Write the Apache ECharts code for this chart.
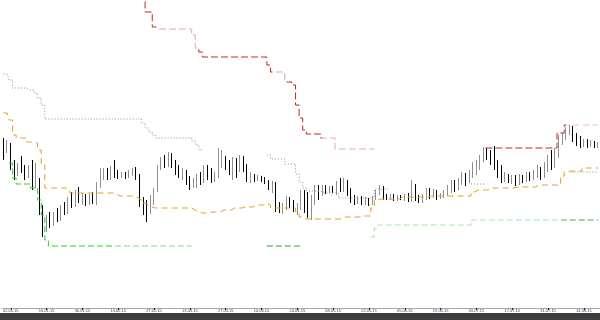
<!DOCTYPE html>
<html><head><meta charset="utf-8">
<script src="https://cdn.jsdelivr.net/npm/echarts@6/dist/echarts.min.js"></script>
<style>html,body{margin:0;padding:0;background:#fff}#c{width:600px;height:320px}</style>
</head><body><div id="c"></div>
<script>
const tickLabels = ["02.01.15","16.01.15","30.01.15","13.02.15","27.02.15","13.03.15","27.03.15","10.04.15","24.04.15","08.05.15","22.05.15","05.06.15","19.06.15","03.07.15","17.07.15","31.07.15","14.08.15"];

const opens = [168,158,163,143,136,143,138,132,138,123,128,98,80,90,84,94,90,100,96,108,104,112,108,112,106,111,108,123,133,135,131,138,135,132,133,132,135,136,132,108,98,96,108,118,140,148,144,150,146,138,133,136,128,124,126,130,127,138,133,128,132,143,148,143,138,146,138,148,142,130,131,129,130,128,125,122,124,103,98,103,108,104,100,103,113,108,98,108,118,114,120,118,119,118,124,120,125,116,110,108,110,106,108,105,110,116,119,112,110,112,109,111,110,112,109,122,110,108,111,115,113,116,112,113,115,118,123,120,126,130,128,133,138,143,150,158,153,158,143,138,130,131,128,130,126,130,128,132,130,134,138,132,140,148,143,156,168,172,178,180,170,168,165,167,164,166,163];
const closes = [153,166,143,133,143,138,133,140,123,133,98,78,90,83,94,88,100,96,108,103,112,108,112,105,111,108,123,133,136,130,138,135,132,134,131,135,136,133,108,98,95,108,118,140,148,143,150,146,138,133,136,128,124,126,130,126,138,133,128,132,143,148,143,138,148,138,148,142,130,132,129,131,128,126,122,125,103,98,103,108,105,100,103,113,108,98,108,118,113,120,118,119,118,124,120,126,116,110,108,110,106,109,105,110,116,120,112,110,112,109,111,110,112,109,123,110,108,111,115,113,116,112,113,115,118,123,120,126,130,128,133,138,143,148,158,153,148,143,138,130,132,128,130,126,130,128,132,130,134,138,132,140,148,143,156,168,172,178,180,170,168,165,167,164,166,163,164];
const lows = [148,155,138,128,132,135,128,130,118,120,93,71,76,80,82,86,87,93,94,100,101,105,103,102,103,104,103,120,128,128,128,130,129,130,129,130,132,128,101,93,86,94,103,116,138,140,141,140,133,130,128,123,118,120,120,123,125,128,125,126,130,140,138,133,128,130,136,136,126,125,126,127,126,124,118,115,96,95,94,98,100,96,93,98,95,90,88,103,108,112,114,115,115,113,116,116,112,105,103,104,103,103,102,103,108,113,108,108,108,107,107,108,107,106,106,107,105,105,108,109,110,108,109,110,112,115,116,118,123,122,125,130,133,138,146,148,143,138,130,125,126,125,124,122,123,125,126,127,128,130,128,130,136,138,140,150,163,168,173,166,162,160,161,160,161,160,160];
const highs = [170,168,165,148,145,152,143,143,148,145,130,103,93,96,96,100,103,106,111,116,118,121,115,114,114,116,126,140,140,140,142,148,138,136,136,138,140,141,134,111,108,113,120,143,151,153,156,155,148,143,140,138,132,130,134,136,143,143,140,136,160,158,152,148,151,150,153,152,144,136,134,133,132,131,128,127,126,106,105,112,111,108,105,118,118,116,113,123,123,123,123,122,122,127,130,130,128,120,113,112,112,111,110,112,118,123,122,114,114,114,113,113,114,115,128,124,113,114,120,120,119,118,115,118,123,128,128,130,136,135,138,146,148,153,161,160,158,162,148,143,136,134,133,133,134,133,136,136,138,143,141,146,153,158,160,173,175,181,183,182,175,172,169,169,168,167,166];

const redLine = [null,null,null,null,null,null,null,null,null,null,null,null,null,null,null,null,null,null,null,null,null,null,null,null,null,null,null,null,null,null,null,null,null,null,null,null,null,null,null,
313,296,296,281,279,279,279,279,279,279,279,279,279,279,273,260,256,
251,251,251,251,251,251,251,251,251,251,251,251,251,251,251,251,251,251,
243,236,236,236,236,226,226,223,203,190,178,174,174,174,174,170,170,170,170,
159,159,159,159,159,159,159,159,159,159,159,
null,null,null,null,null,null,null,null,null,null,null,null,null,null,null,null,null,null,null,null,null,null,null,null,null,null,null,null,null,null,null,
160,160,160,160,160,160,160,160,160,160,160,160,160,160,160,160,160,160,160,160,
175,175,183,183,183,183,183,183,183,183,183,183];

const grayLine = [234,234,228,220,220,220,220,218,218,215,210,203,
189,189,189,189,189,189,189,189,189,189,189,189,189,189,189,189,189,189,189,189,189,189,189,189,189,189,189,
185,180,176,173,170,170,170,170,170,170,170,170,170,170,167,163,158,
null,null,null,null,null,null,null,null,null,null,null,null,null,null,null,null,null,null,
153,149,149,149,149,144,144,144,134,126,120,117,117,117,117,115,115,115,115,115,
110,110,110,110,110,110,110,110,110,110,119,119,119,119,
null,null,null,null,null,null,null,null,null,null,null,null,null,null,null,null,null,null,null,null,null,null,null,
124,124,124,124,
null,null,null,null,null,null,null,null,null,null,null,null,null,null,null,null,null,null,null,null,null,null,null,null,
136,136,136,136,136,136,136,136];

const orangeLine = [195,195,188,173,170,170,170,166,166,165,158,143,120,120,120,120,120,120,118,
115,115,115,115,115,115,115,115,115,115,115,115,114,112,112,112,112,112,110,108,105,103,101,
100,100,100,100,100,100,100,100,100,100,100,98,96,95,95,95,96,96,96,98,98,98,100,100,100,101,101,101,103,103,103,105,103,
100,100,100,100,100,100,100,96,91,89,89,89,89,89,89,89,89,89,89,89,91,91,91,91,91,92,92,92,100,108,
109,109,109,109,109,109,111,111,111,111,111,111,111,111,112,112,112,112,112,112,112,112,112,112,112,112,
116,118,118,118,118,120,120,120,120,120,120,120,121,121,121,121,121,121,123,123,123,123,123,123,123,132,136,137,137,137,137,140,140,140,140,140];

const greenLine = [null,null,145,130,124,124,124,124,120,120,108,93,68,
62,62,62,62,62,62,62,62,62,62,62,62,62,62,62,62,62,62,62,62,62,62,62,62,62,62,62,62,62,62,62,62,62,62,62,62,62,62,62,62,
null,null,null,null,null,null,null,null,null,null,null,null,null,null,null,null,null,null,null,null,null,
62,62,62,62,62,62,62,62,62,62,
null,null,null,null,null,null,null,null,null,null,null,null,null,null,null,null,null,null,null,
71,80,83,83,83,83,83,83,83,83,83,83,83,83,83,83,83,83,83,83,83,83,83,83,83,83,83,83,
88,88,88,88,88,88,88,88,88,88,88,88,88,88,88,88,88,88,88,88,88,88,88,88,88,88,88,88,88,88,88,88,88,88,88,88];

const categories = opens.map((_, i) => i);
const candles = opens.map((o, i) => [o, closes[i], lows[i], highs[i]]);
const showIdx = (idx) => idx >= 2 && (idx - 2) % 10 === 0;

const chart = echarts.init(document.getElementById('c'), null, {renderer: 'canvas'});
chart.setOption({
  animation: false,
  backgroundColor: '#ffffff',
  grid: {left: 0, right: 0, top: 0, bottom: 12, containLabel: false},
  xAxis: {
    type: 'category', data: categories, boundaryGap: true,
    axisLine: {lineStyle: {color: '#a8a8a8', width: 1}},
    axisTick: {show: true, interval: showIdx, length: 2, alignWithLabel: true, lineStyle: {color: '#222'}},
    axisLabel: {interval: showIdx, margin: 1, fontSize: 4, color: '#334466', fontFamily: 'Liberation Sans',
      formatter: (v, idx) => tickLabels[(idx - 2) / 10] || ''},
    splitLine: {show: false}
  },
  yAxis: {type: 'value', min: 0, max: 308, show: false, splitLine: {show: false}},
  visualMap: [
    {show: false, type: 'piecewise', seriesIndex: 1, dimension: 0, pieces: [
      {lte: 42.5, color: '#c2241c'}, {gt: 42.5, lte: 53.5, color: '#e9a3a3'},
      {gt: 53.5, lte: 74.5, color: '#c2241c'}, {gt: 74.5, lte: 78.5, color: '#e6a0a0'},
      {gt: 78.5, lte: 88.5, color: '#c2241c'}, {gt: 88.5, lte: 134, color: '#e9a8a8'},
      {gt: 134, lte: 156.5, color: '#c2241c'}, {gt: 156.5, color: '#f0c2c2'}]},
    {show: false, type: 'piecewise', seriesIndex: 4, dimension: 0, pieces: [
      {lte: 30.5, color: '#28cc28'}, {gt: 30.5, lte: 60, color: '#7edb7e'},
      {gt: 60, lte: 90, color: '#22a822'}, {gt: 90, lte: 155.5, color: '#a6e6a6'},
      {gt: 155.5, color: '#22b822'}]}
  ],
  series: [
    {type: 'candlestick', data: candles, large: false, barWidth: 0.1, z: 2,
     itemStyle: {color: '#8e8e8e', color0: '#000000', borderColor: '#8e8e8e', borderColor0: '#000000', borderWidth: 1}},
    {type: 'line', data: redLine, step: 'middle', symbol: 'none', z: 4,
     lineStyle: {width: 1, type: [7, 3]}},
    {type: 'line', data: grayLine, step: 'middle', symbol: 'none', z: 3,
     lineStyle: {width: 1, color: '#8c8c8c', type: [1, 2]}},
    {type: 'line', data: orangeLine, step: 'middle', symbol: 'none', z: 4,
     lineStyle: {width: 1, color: '#e0a026', type: [6, 4]}},
    {type: 'line', data: greenLine, step: 'middle', symbol: 'none', z: 4,
     lineStyle: {width: 1, type: [6, 3]}}
  ],
  graphic: [{type: 'rect', left: 0, top: 313, shape: {width: 600, height: 7}, style: {fill: '#3d3d3d'}, silent: true}]
});
</script></body></html>
